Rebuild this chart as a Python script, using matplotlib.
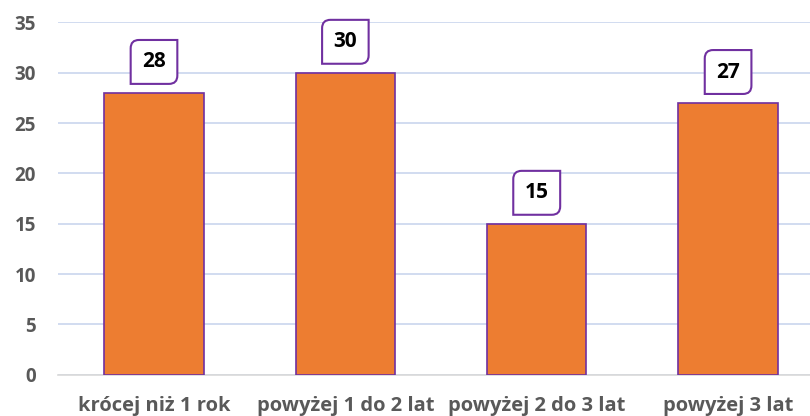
import matplotlib
matplotlib.use("Agg")
import matplotlib.pyplot as plt
from matplotlib.path import Path

categories = ["krócej niż 1 rok", "powyżej 1 do 2 lat", "powyżej 2 do 3 lat", "powyżej 3 lat"]
values = [28, 30, 15, 27]
yticks = [0, 5, 10, 15, 20, 25, 30, 35]

ORANGE = "#ED7D31"
PURPLE = "#7030A0"
GRID = "#C9D6EE"
TICK = "#595959"

plt.rcParams['font.family'] = ['Open Sans', 'DejaVu Sans']


class CalloutBox:
    def __init__(self, padx=0.55, pady=0.4, r=0.4):
        self.padx = padx
        self.pady = pady
        self.r = r

    def __call__(self, x0, y0, width, height, mutation_size):
        px = mutation_size * self.padx
        py = mutation_size * self.pady
        x0 -= px
        y0 -= py
        x1 = x0 + width + 2 * px
        y1 = y0 + height + 2 * py
        r = mutation_size * self.r
        verts = [
            (x0, y0), (x1 - r, y0), (x1, y0), (x1, y0 + r),
            (x1, y1), (x0 + r, y1), (x0, y1), (x0, y1 - r),
            (x0, y0), (x0, y0)
        ]
        codes = [Path.MOVETO, Path.LINETO, Path.CURVE3, Path.CURVE3,
                 Path.LINETO, Path.LINETO, Path.CURVE3, Path.CURVE3,
                 Path.LINETO, Path.CLOSEPOLY]
        return Path(verts, codes)


fig = plt.figure(figsize=(8.1, 4.16), dpi=100)
ax = fig.add_axes([0.072, 0.099, 1.017 - 0.072, 0.946 - 0.099])

x = list(range(len(categories)))
ax.bar(x, values, width=0.52, color=ORANGE, edgecolor=PURPLE, linewidth=1.2, zorder=3)

ax.set_xlim(-0.5, 3.5)
ax.set_ylim(0, 35)
ax.set_yticks(yticks)
ax.set_yticklabels([str(t) for t in yticks], fontsize=13.5, fontweight='bold', color=TICK)
ax.set_xticks(x)
ax.set_xticklabels(categories, fontsize=14.5, fontweight='bold', color=TICK)
ax.tick_params(axis='both', length=0)
ax.tick_params(axis='y', pad=16)
ax.tick_params(axis='x', pad=15)

ax.yaxis.grid(True, color=GRID, linewidth=1.2, zorder=0)
ax.set_axisbelow(True)
for s in ["top", "right", "left"]:
    ax.spines[s].set_visible(False)
ax.spines["bottom"].set_color("#D9D9D9")
ax.spines["bottom"].set_linewidth(1.2)

for xi, v in zip(x, values):
    ax.annotate(str(v), xy=(xi, v), xytext=(0, 31), textcoords='offset pixels',
                ha='center', va='center', fontsize=15, fontweight='bold', color='black',
                bbox=dict(boxstyle=CalloutBox(padx=0.55, pady=0.55, r=0.4), facecolor='white',
                          edgecolor=PURPLE, linewidth=1.5), zorder=5)

fig.savefig("out.png", dpi=100)
